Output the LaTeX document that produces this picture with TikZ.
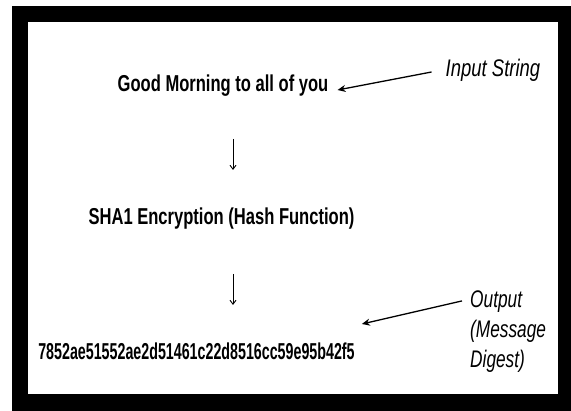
\documentclass[tikz,border=0pt]{standalone}
\usepackage{fontspec}
\setmainfont{Liberation Sans}
\usepackage{graphicx}
\usepackage{tikz}
\usetikzlibrary{arrows.meta, positioning, calc}

\newcommand{\narrowtext}[2]{\scalebox{#1}[1]{#2}}

\begin{document}
\begin{tikzpicture}[
    x=1pt, y=-1pt,
    step text/.style={inner sep=0pt, font=\fontsize{23}{26}\selectfont\bfseries},
    tag text/.style={inner sep=0pt, align=left, font=\fontsize{24}{30}\selectfont\itshape},
    pointer/.style={line width=1.3pt, -{Stealth[length=8pt, width=7pt]}},
    stem/.style={line width=0.9pt, -{Straight Barb[length=4pt, width=6pt]}}
]
    \useasboundingbox (0,0) rectangle (571,411);
    \fill[black] (12,6) rectangle (571,411);
    \fill[white] (28,22) rectangle (558,394);

    \node[step text] (msg) at (223,86) {\narrowtext{.72}{Good Morning to all of you}};
    \node[step text] (sha) at (221.5,219) {\narrowtext{.72}{SHA1 Encryption (Hash Function)}};
    \node[step text] (digest) at (196.5,351) {\narrowtext{.62}{7852ae51552ae2d51461c22d8516cc59e95b42f5}};

    \node[tag text] (inp) at (493,70) {\narrowtext{.77}{Input String}};
    \node[tag text, anchor=west] (out) at (470,332) {\narrowtext{.72}{Output}\\\narrowtext{.72}{(Message}\\\narrowtext{.72}{Digest)}};

    \draw[pointer] ([xshift=-14pt,yshift=-2pt]inp.west) -- ([xshift=9pt,yshift=-4pt]msg.east);
    \draw[pointer] ([xshift=-8pt,yshift=-10pt]out.north west) -- ([xshift=7pt,yshift=27pt]digest.east);

    \draw[stem, shorten <=53pt, shorten >=49pt] ([xshift=10pt]msg.center) -- ([xshift=10pt]msg.center |- sha.center);
    \draw[stem, shorten <=55pt, shorten >=46pt] ([xshift=10pt]msg.center |- sha.center) -- ([xshift=10pt]msg.center |- digest.center);
\end{tikzpicture}
\end{document}
